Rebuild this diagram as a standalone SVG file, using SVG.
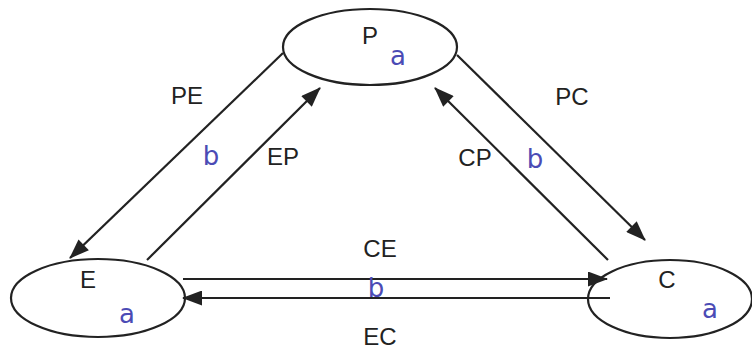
<svg xmlns="http://www.w3.org/2000/svg" width="752" height="352" viewBox="0 0 752 352">
  <style>
    .node { fill: none; stroke: #222222; stroke-width: 2.2; }
    .conn { stroke: #222222; stroke-width: 2.2; fill: none; marker-end: url(#arrow); }
    .lbl { font-family: "Liberation Sans", Arial, sans-serif; font-size: 24px; fill: #222222; text-anchor: middle; }
    .hand { font-family: "DejaVu Sans", "Liberation Sans", sans-serif; font-size: 26px; fill: #4b4bb5; text-anchor: middle; }
  </style>
  <defs>
    <marker id="arrow" viewBox="0 0 20 15" markerWidth="21" markerHeight="15" refX="19" refY="7.5" orient="auto" markerUnits="userSpaceOnUse">
      <path d="M0,0 L20,7.5 L0,15 z" fill="#222222"/>
    </marker>
  </defs>
  <rect width="752" height="352" fill="#ffffff"/>

  <g id="node-P">
    <ellipse class="node" cx="370" cy="47" rx="87" ry="38"/>
    <text class="lbl" x="370" y="44">P</text>
    <text class="hand" x="398" y="65">a</text>
  </g>
  <g id="node-E">
    <ellipse class="node" cx="98" cy="298" rx="87" ry="39"/>
    <text class="lbl" x="88" y="288">E</text>
    <text class="hand" x="127" y="323">a</text>
  </g>
  <g id="node-C">
    <ellipse class="node" cx="670" cy="299" rx="82" ry="39"/>
    <text class="lbl" x="667" y="288">C</text>
    <text class="hand" x="710" y="318">a</text>
  </g>

  <g id="connectors">
    <line class="conn" x1="283" y1="53" x2="70" y2="258"/>
    <line class="conn" x1="147" y1="260" x2="320" y2="88"/>
    <line class="conn" x1="457" y1="55" x2="645" y2="240"/>
    <line class="conn" x1="608" y1="260" x2="435" y2="88"/>
    <line class="conn" x1="183" y1="279" x2="607" y2="279"/>
    <line class="conn" x1="610" y1="298" x2="183" y2="298"/>
    <text class="lbl" x="187" y="104">PE</text>
    <text class="lbl" x="283" y="165">EP</text>
    <text class="lbl" x="475" y="166">CP</text>
    <text class="lbl" x="572" y="105">PC</text>
    <text class="lbl" x="380" y="257">CE</text>
    <text class="lbl" x="380" y="345">EC</text>
    <text class="hand" x="211" y="165">b</text>
    <text class="hand" x="535" y="168">b</text>
    <text class="hand" x="376" y="297">b</text>
  </g>
</svg>
